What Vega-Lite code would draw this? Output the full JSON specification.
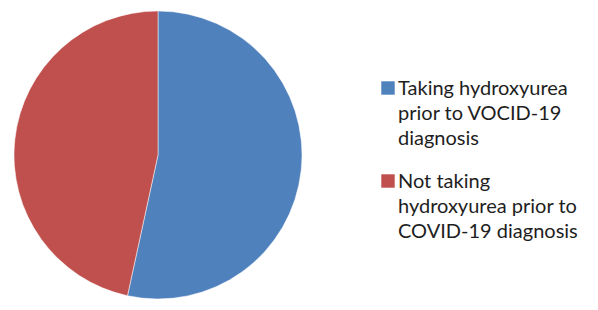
{
  "$schema": "https://vega.github.io/schema/vega-lite/v6.json",
  "width": 316,
  "height": 310,
  "padding": {"left": 0, "top": 0, "right": 282, "bottom": 0},
  "autosize": {"type": "none"},
  "background": "white",
  "data": {
    "values": [
      {"category": "Taking hydroxyurea|prior to VOCID-19|diagnosis", "value": 53.4, "rank": 1},
      {"category": "Not taking|hydroxyurea prior to|COVID-19 diagnosis", "value": 46.6, "rank": 2}
    ]
  },
  "mark": {"type": "arc", "outerRadius": 144, "stroke": "white", "strokeWidth": 0.5},
  "encoding": {
    "theta": {"field": "value", "type": "quantitative", "stack": true},
    "order": {"field": "rank", "type": "quantitative"},
    "color": {
      "field": "category",
      "type": "nominal",
      "sort": null,
      "scale": {"range": ["#4F81BD", "#C0504D"]},
      "legend": {
        "title": null,
        "orient": "none",
        "legendX": 378,
        "legendY": 78,
        "symbolType": "square",
        "symbolSize": 180,
        "symbolStrokeWidth": 0,
        "labelFont": "Lato",
        "labelFontSize": 20,
        "labelColor": "#1e1e1e",
        "labelLimit": 300,
        "labelOffset": 0,
        "labelBaseline": "top",
        "labelExpr": "split(datum.label, '|')",
        "rowPadding": 22
      }
    }
  },
  "config": {
    "view": {"stroke": null},
    "style": {"guide-label": {"lineHeight": 25, "dy": -9}}
  }
}
